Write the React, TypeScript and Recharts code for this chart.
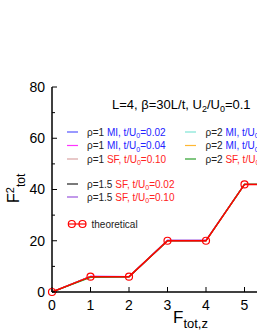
import React from 'react';
import { LineChart, Line, XAxis, YAxis } from 'recharts';

// F_tot,z values and the measured / theoretical F^2_tot
const fz = [0, 1, 2, 3, 4, 5, 6];
const theory = [0, 6, 6, 20, 20, 42, 42];
const rho1MiA = [0, 6.1, 6, 20, 20];
const rho1MiB = [0, 6.1, 6, 20, 20];
const rho1Sf = [0, 6, 6, 19.9, 20];
const rho15SfA = [0, 6, 6, 20, 20, 42, 42];
const rho15SfB = [0, 6, 6, 20.3, 20.3, 42, 42];
const rho2MiA = [0, 6, 6, 20, 20, 42, 42];
const rho2MiB = [0, 6, 6, 20, 20, 42, 42];
const rho2Sf = [0, 5.7, 5.9, 20, 20, 42, 42];

const xTicks = [0, 1, 2, 3, 4, 5, 6];
const yTicks = [0, 10, 20, 30, 40, 50, 60, 70, 80];

const series = [
  { key: 'r1a', data: rho1MiA, color: '#5555ff', rho: '1', phase: 'MI', t: '0.02', col: 0, row: 0 },
  { key: 'r1b', data: rho1MiB, color: '#ff33ff', rho: '1', phase: 'MI', t: '0.04', col: 0, row: 1 },
  { key: 'r1c', data: rho1Sf, color: '#d9a3a3', rho: '1', phase: 'SF', t: '0.10', col: 0, row: 2 },
  { key: 'r15a', data: rho15SfA, color: '#222222', rho: '1.5', phase: 'SF', t: '0.02', col: 0, row: 3 },
  { key: 'r15b', data: rho15SfB, color: '#9955dd', rho: '1.5', phase: 'SF', t: '0.10', col: 0, row: 4 },
  { key: 'r2a', data: rho2MiA, color: '#7fe5d5', rho: '2', phase: 'MI', t: '0.02', col: 1, row: 0 },
  { key: 'r2b', data: rho2MiB, color: '#ffb833', rho: '2', phase: 'MI', t: '0.04', col: 1, row: 1 },
  { key: 'r2c', data: rho2Sf, color: '#2ca02c', rho: '2', phase: 'SF', t: '0.10', col: 1, row: 2 },
];

const rows = fz.map((x, i) => {
  const r: any = { x, theo: theory[i] };
  series.forEach((s) => {
    r[s.key] = s.data[i];
  });
  return r;
});

const FONT = '"Liberation Sans", Arial, sans-serif';
const RED = '#ff0000';

const BottomTick = (props: any) => {
  const { x, y, payload } = props;
  return (
    <g>
      <line x1={x} y1={y} x2={x} y2={y - 5} stroke="#000" />
      <text x={x} y={y + 18} textAnchor="middle" fontSize={14} fontFamily={FONT} fill="#000">
        {payload.value}
      </text>
    </g>
  );
};

const TopTick = (props: any) => {
  const { x, y } = props;
  return <line x1={x} y1={y} x2={x} y2={y + 5} stroke="#000" />;
};

const LeftTick = (props: any) => {
  const { x, y, payload } = props;
  const major = payload.value % 20 === 0;
  return (
    <g>
      <line x1={x} y1={y} x2={x + (major ? 5 : 3)} y2={y} stroke="#000" />
      {major && (
        <text x={x - 7} y={y} dy="0.35em" textAnchor="end" fontSize={14} fontFamily={FONT} fill="#000">
          {payload.value}
        </text>
      )}
    </g>
  );
};

const rowY = (row: number) => (row < 3 ? 132 + row * 13.5 : 184 + (row - 3) * 13);

const Overlay = () => (
  <svg
    width={257}
    height={333}
    style={{ position: 'absolute', left: 0, top: 0, pointerEvents: 'none' }}
    fontFamily={FONT}
  >
    <text x={112} y={109} fontSize={13} fill="#000">
      L=4, β=30L/t, U
      <tspan fontSize={9} dy={3}>2</tspan>
      <tspan dy={-3}>/U</tspan>
      <tspan fontSize={9} dy={3}>0</tspan>
      <tspan dy={-3}>=0.1</tspan>
    </text>
    {series.map((s) => {
      const lx = s.col === 0 ? 67 : 185;
      const tx = s.col === 0 ? 87 : 205.5;
      const y = rowY(s.row);
      const c = s.phase === 'MI' ? '#2222ff' : '#ff2222';
      return (
        <g key={s.key}>
          <line x1={lx} y1={y} x2={lx + 11} y2={y} stroke={s.color} strokeWidth={1.2} />
          <text x={tx} y={y + 3.5} fontSize={10} fill="#222">
            ρ={s.rho}{' '}
            <tspan fill={c}>{s.phase}, t/U</tspan>
            <tspan fill={c} fontSize={7} dy={2.5}>0</tspan>
            <tspan fill={c} dy={-2.5}>={s.t}</tspan>
          </text>
        </g>
      );
    })}
    <line x1={68} y1={224} x2={86} y2={224} stroke={RED} strokeWidth={1.2} />
    <circle cx={71.8} cy={224} r={3.5} stroke={RED} strokeWidth={1.2} fill="none" />
    <circle cx={82.5} cy={224} r={3.5} stroke={RED} strokeWidth={1.2} fill="none" />
    <text x={91.5} y={227.5} fontSize={10} fill="#222">theoretical</text>
    <text x={173} y={323} fontSize={17} fill="#000">
      F<tspan fontSize={13} dy={5}>tot,z</tspan>
    </text>
    <text transform="translate(18.5,203) rotate(-90)" fontSize={16} fill="#000">
      F<tspan fontSize={11} dy={-5}>2</tspan>
      <tspan fontSize={12} dy={11}>tot</tspan>
    </text>
  </svg>
);

export default function App() {
  return (
    <div style={{ position: 'absolute', left: 0, top: 0, width: 257, height: 333, overflow: 'hidden', background: '#fff' }}>
      <LineChart width={299} height={333} data={rows} margin={{ top: 87, right: 16, bottom: 0, left: 0 }}>
        <XAxis
          dataKey="x"
          type="number"
          domain={[0, 6]}
          ticks={xTicks}
          height={41}
          tickSize={0}
          tickMargin={0}
          axisLine={{ stroke: '#000', strokeWidth: 1.5 }}
          tick={<BottomTick />}
          interval={0}
        />
        <XAxis
          xAxisId="top"
          orientation="top"
          dataKey="x"
          type="number"
          domain={[0, 6]}
          ticks={xTicks}
          height={0}
          tickSize={0}
          tickMargin={0}
          axisLine={{ stroke: '#000', strokeWidth: 1.5 }}
          tick={<TopTick />}
          interval={0}
        />
        <YAxis
          type="number"
          domain={[0, 80]}
          ticks={yTicks}
          width={52}
          tickSize={0}
          tickMargin={0}
          axisLine={{ stroke: '#000', strokeWidth: 1.5 }}
          tick={<LeftTick />}
          interval={0}
        />
        {series.map((s) => (
          <Line
            key={s.key}
            dataKey={s.key}
            stroke={s.color}
            strokeWidth={1.2}
            dot={false}
            activeDot={false}
            isAnimationActive={false}
            type="linear"
          />
        ))}
        <Line
          dataKey="theo"
          stroke={RED}
          strokeWidth={1.5}
          dot={{ r: 3.5, stroke: RED, strokeWidth: 1.2, fill: 'none' }}
          activeDot={false}
          isAnimationActive={false}
          type="linear"
        />
      </LineChart>
      <Overlay />
    </div>
  );
}
